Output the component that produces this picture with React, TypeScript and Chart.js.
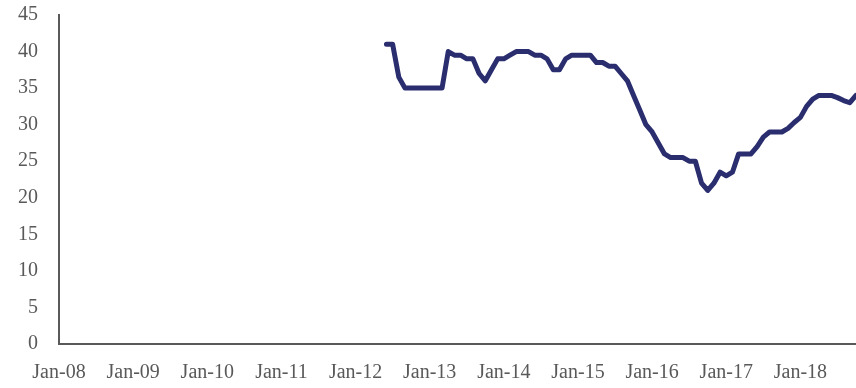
import React, { useEffect, useRef } from "react";
import { Chart, registerables } from "chart.js";

Chart.register(...registerables);

const months = ["Jan", "Feb", "Mar", "Apr", "May", "Jun", "Jul", "Aug", "Sep", "Oct", "Nov", "Dec"];
const years = ["08", "09", "10", "11", "12", "13", "14", "15", "16", "17", "18"];
const lastLabel = "Oct-18";
const seriesStart = "Jun-12";

const seriesValues = [
  41, 41, 36.5, 35, 35, 35, 35,
  35, 35, 35, 40, 39.5, 39.5, 39, 39, 37, 36, 37.5, 39,
  39, 39.5, 40, 40, 40, 39.5, 39.5, 39, 37.5, 37.5, 39, 39.5,
  39.5, 39.5, 39.5, 38.5, 38.5, 38, 38, 37, 36, 34, 32, 30,
  29, 27.5, 26, 25.5, 25.5, 25.5, 25, 25, 22, 21, 22, 23.5,
  23, 23.5, 26, 26, 26, 27, 28.3, 29, 29, 29, 29.5, 30.3,
  31, 32.5, 33.5, 34, 34, 34, 33.7, 33.3, 33, 34,
];

const yTicks = [0, 5, 10, 15, 20, 25, 30, 35, 40, 45];

export default function App() {
  const ref = useRef<HTMLCanvasElement>(null);
  useEffect(() => {
    document.body.style.margin = "0";
    const labels: string[] = [];
    for (const y of years) {
      for (const m of months) {
        labels.push(`${m}-${y}`);
      }
    }
    const cats = labels.slice(0, labels.indexOf(lastLabel) + 1);
    const startIdx = cats.indexOf(seriesStart);
    const data: (number | null)[] = cats.map((_, i) =>
      i < startIdx ? null : seriesValues[i - startIdx] ?? null
    );
    const font = { family: "'Liberation Serif', 'Times New Roman', serif", size: 20 };
    const chart = new Chart(ref.current!, {
      type: "line",
      data: {
        labels: cats,
        datasets: [
          {
            data,
            borderColor: "#2A2D6E",
            borderWidth: 5,
            pointRadius: 0,
            tension: 0,
            borderJoinStyle: "round",
            borderCapStyle: "round",
            fill: false,
          },
        ],
      },
      options: {
        animation: false,
        responsive: false,
        maintainAspectRatio: false,
        layout: { padding: { top: 15, right: 0, left: 0, bottom: 0 } },
        plugins: { legend: { display: false }, tooltip: { enabled: false } },
        scales: {
          x: {
            offset: false,
            grid: { display: false, drawTicks: false },
            border: { display: true, color: "#595959", width: 2 },
            ticks: {
              autoSkip: false,
              maxRotation: 0,
              minRotation: 0,
              padding: 17,
              color: "#595959",
              font,
              callback: (_v: any, i: number) => (cats[i].startsWith("Jan") ? cats[i] : ""),
            },
            afterFit: (s: any) => {
              s.height = 44;
              s.paddingLeft = 0;
              s.paddingRight = 0;
            },
          },
          y: {
            min: 0,
            max: 45,
            grid: { display: false, drawTicks: false },
            border: { display: true, color: "#595959", width: 2 },
            afterBuildTicks: (s: any) => {
              s.ticks = yTicks.map((v) => ({ value: v }));
            },
            ticks: {
              padding: 21,
              color: "#595959",
              font,
            },
            afterFit: (s: any) => {
              s.width = 59;
              s.paddingTop = 0;
              s.paddingBottom = 0;
            },
          },
        },
      },
    });
    return () => chart.destroy();
  }, []);
  return (
    <div style={{ width: 856, height: 388 }}>
      <canvas ref={ref} width={856} height={388} style={{ display: "block" }} />
    </div>
  );
}
